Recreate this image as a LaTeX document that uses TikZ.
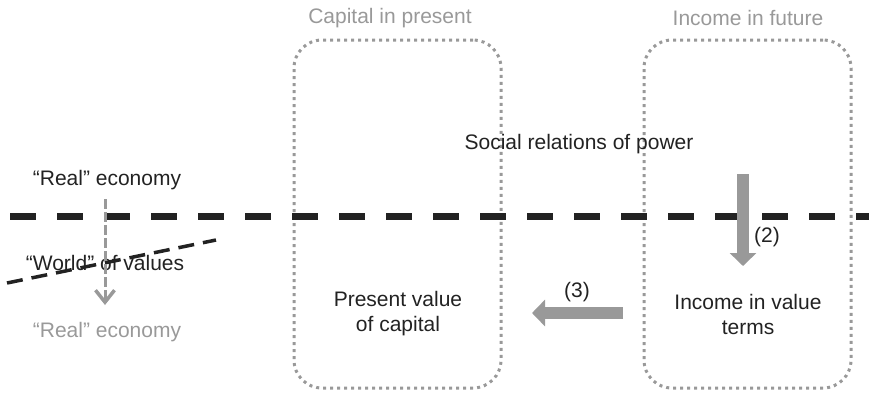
\documentclass[tikz,border=0pt]{standalone}
\usepackage{fontspec}
\setmainfont{Liberation Sans}
\usetikzlibrary{arrows.meta}
\definecolor{ink}{HTML}{222222}
\definecolor{soft}{HTML}{999999}
\begin{document}
\begin{tikzpicture}[x=1pt,y=-1pt,
  every node/.style={font=\fontsize{21}{25}\selectfont, text=ink, inner sep=0pt},
  frame/.style={draw=soft, line width=3pt, dash pattern=on 3pt off 4pt,
    rounded corners=28pt, minimum width=207pt, minimum height=348pt},
  title/.style={text=soft},
  bigarrow/.style={draw=soft, line width=12pt,
    -{Triangle[length=13pt,width=26pt]}},
  border/.style={draw=ink, line width=7pt, dash pattern=on 26pt off 21pt},
  slant/.style={draw=ink, line width=3.5pt, dash pattern=on 16pt off 9pt},
  flow/.style={draw=soft, line width=3pt, dash pattern=on 10pt off 3pt,
    -{Straight Barb[length=12pt,width=19pt,line width=3.5pt]}}
]
\useasboundingbox (0,0) rectangle (869,392);

% the two time frames
\node[frame] (present) at (397.5,214) {};
\node[frame] (future) at (747.5,214) {};
\node[title] (tpresent) at (390,18) {Capital in present};
\node[title] (tfuture) at (748,18) {Income in future};

% boundary between the real economy and the world of values
\coordinate (bl) at (10,216.5);
\coordinate (br) at (869,216.5);
\draw[border] (bl) -- (br);

% small inset on the left
\node (realtop) at (107,180) {“Real” economy};
\node (world) at (105,263) {“World” of values};
\node[text=soft] (realbot) at (107,332) {“Real” economy};
\coordinate (sl) at (7,283);
\coordinate (sr) at (216,240);
\draw[slant] (sl) -- (sr);
\coordinate (ftop) at (105,199);
\coordinate (fbot) at (105,305);
\draw[flow] (ftop) -- (fbot);

% main labels
\node (power) at (579,144) {Social relations of power};
\node[align=center] (income) at (748,314) {Income in value\\terms};
\node[align=center] (pv) at (398,314) {Present value\\of capital};

% arrows (2) and (3)
\coordinate (a2s) at (743,174);
\coordinate (a2e) at (743,266);
\draw[bigarrow] (a2s) -- (a2e);
\node (l2) at (767,237) {(2)};
\coordinate (a3s) at (623,313);
\coordinate (a3e) at (532,313);
\draw[bigarrow] (a3s) -- (a3e);
\node (l3) at (577,292) {(3)};
\end{tikzpicture}
\end{document}
